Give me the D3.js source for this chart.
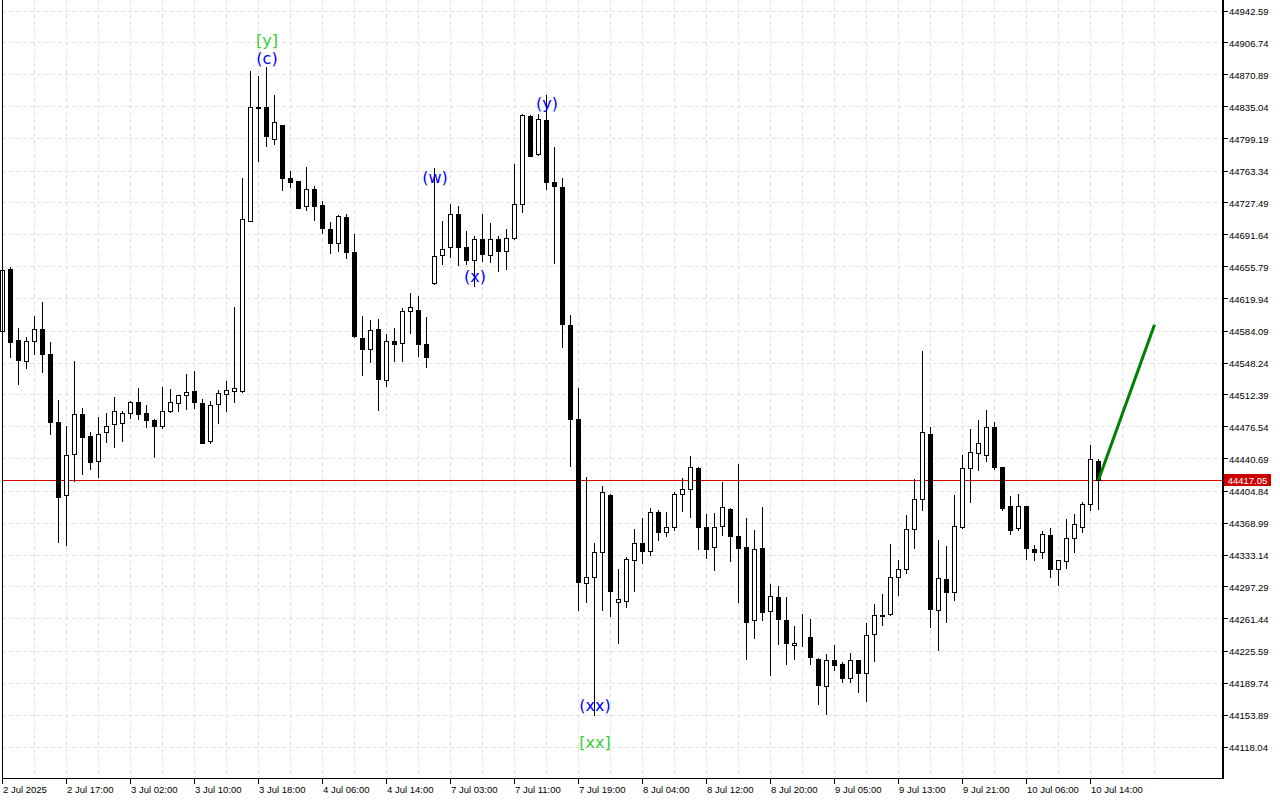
<!DOCTYPE html>
<html><head><meta charset="utf-8">
<script src="https://cdn.jsdelivr.net/npm/d3@7"></script>
<style>body{margin:0;background:#fff}svg{display:block}</style>
</head><body><svg id="c" width="1280" height="800"></svg>
<script>
const open=[44584,44654,44574,44551,44573,44586,44558,44482,44400,44446,44491,44466,44438,44471,44480,44481,44492,44504,44492,44484,44478,44494,44503,44512,44517,44503,44461,44502,44514,44517,44517,44707,44835,44835,44799,44815,44756,44752,44724,44743,44725,44698,44683,44712,44673,44576,44564,44586,44529,44573,44571,44606,44608,44570,44638,44669,44678,44715,44678,44664,44687,44669,44687,44674,44688,44726,44825,44782,44821,44751,44745,44591,44486,44302,44309,44337,44400,44281,44282,44327,44347,44338,44381,44359,44365,44402,44407,44431,44365,44342,44366,44385,44354,44342,44260,44341,44270,44286,44260,44232,44241,44241,44217,44186,44216,44211,44195,44215,44201,44245,44266,44267,44309,44318,44362,44396,44469,44271,44306,44292,44364,44431,44447,44445,44477,44432,44388,44363,44388,44340,44337,44356,44317,44326,44352,44365,44390,44439];
const high=[44655,44656,44587,44577,44601,44617,44572,44507,44478,44550,44498,44471,44488,44492,44510,44495,44506,44520,44501,44485,44521,44519,44512,44536,44539,44508,44506,44518,44528,44611,44755,44875,44870,44880,44848,44815,44763,44752,44768,44747,44730,44706,44714,44715,44693,44601,44596,44598,44581,44587,44610,44627,44623,44600,44767,44707,44726,44724,44696,44691,44715,44705,44690,44698,44771,44827,44826,44827,44849,44790,44755,44602,44520,44420,44347,44411,44401,44317,44331,44362,44375,44386,44384,44381,44404,44419,44444,44432,44379,44380,44415,44386,44435,44375,44361,44387,44301,44298,44286,44254,44267,44262,44218,44222,44232,44213,44223,44216,44257,44278,44289,44345,44327,44378,44418,44562,44477,44350,44343,44400,44445,44474,44484,44496,44482,44432,44399,44402,44388,44344,44360,44363,44327,44374,44379,44393,44456,44441];
const low=[44574,44555,44525,44543,44558,44538,44469,44348,44344,44416,44424,44430,44421,44460,44454,44461,44487,44486,44476,44443,44475,44493,44494,44497,44498,44459,44459,44481,44495,44504,44516,44707,44775,44791,44794,44742,44745,44722,44720,44708,44694,44672,44674,44666,44577,44535,44549,44496,44522,44550,44550,44582,44556,44544,44637,44659,44667,44658,44659,44635,44663,44661,44651,44654,44687,44717,44780,44781,44743,44660,44566,44433,44272,44280,44154,44272,44265,44235,44275,44293,44324,44333,44350,44354,44361,44382,44376,44340,44330,44316,44355,44326,44280,44217,44240,44260,44199,44233,44211,44217,44231,44211,44166,44155,44204,44191,44191,44180,44170,44214,44255,44266,44288,44313,44341,44384,44252,44227,44258,44283,44363,44392,44428,44439,44430,44383,44357,44361,44329,44328,44330,44309,44299,44319,44336,44359,44384,44385];
const close=[44652,44572,44552,44573,44586,44558,44482,44398,44445,44491,44465,44437,44469,44478,44495,44492,44505,44491,44484,44478,44494,44504,44512,44516,44504,44459,44501,44515,44518,44520,44710,44835,44834,44802,44818,44756,44751,44722,44743,44724,44699,44683,44713,44673,44578,44564,44585,44530,44573,44570,44607,44611,44570,44555,44668,44676,44715,44678,44664,44687,44670,44687,44674,44688,44726,44826,44780,44822,44751,44747,44592,44485,44303,44309,44337,44404,44293,44284,44329,44347,44338,44381,44359,44365,44401,44407,44432,44365,44340,44365,44387,44354,44341,44258,44340,44269,44287,44261,44234,44234,44241,44219,44187,44215,44210,44195,44215,44201,44244,44266,44265,44309,44318,44362,44396,44471,44273,44307,44292,44366,44431,44448,44459,44477,44432,44386,44361,44388,44341,44337,44357,44317,44327,44352,44368,44390,44441,44417.05];

const yTicks=[44942.59,44906.74,44870.89,44835.04,44799.19,44763.34,44727.49,44691.64,44655.79,44619.94,44584.09,44548.24,44512.39,44476.54,44440.69,44404.84,44368.99,44333.14,44297.29,44261.44,44225.59,44189.74,44153.89,44118.04];
const xLabels=["2 Jul 2025","2 Jul 17:00","3 Jul 02:00","3 Jul 10:00","3 Jul 18:00","4 Jul 06:00","4 Jul 14:00","7 Jul 03:00","7 Jul 11:00","7 Jul 19:00","8 Jul 04:00","8 Jul 12:00","8 Jul 20:00","9 Jul 05:00","9 Jul 13:00","9 Jul 21:00","10 Jul 06:00","10 Jul 14:00"];
const xLabelIdx=[0,8,16,24,32,40,48,56,64,72,80,88,96,104,112,120,128,136];

const waveText=["[y]","(c)","(w)","(x)","(y)","(xx)","[xx]"];
const waveIdx=[33,33,54,59,68,74,74];
const wavePrice=[44910,44889,44755.5,44644.6,44839.5,44165,44123.6];
const waveDegree=["major","minor","minor","minor","minor","minor","major"];

const lastPrice=44417.05;
const projIdx=[137,144];
const projPrice=[44417.05,44591];

const svg=d3.select("#c");
const L=2, R=1222, T=0, B=778;
const x=d3.scaleLinear().domain([0,145]).range([2.5,2.5+8*145]);
const y=d3.scaleLinear().domain([44118.04,44942.59]).range([747,11]);
const px=v=>Math.floor(v)+0.5;

svg.append("rect").attr("width",1280).attr("height",800).attr("fill","#fff");

// grid
const g=svg.append("g");
g.selectAll(".hg").data(yTicks).join("line")
 .attr("x1",L).attr("x2",R).attr("y1",d=>px(y(d))).attr("y2",d=>px(y(d)))
 .attr("stroke","#e2e2e2").attr("stroke-dasharray","4,3");
const vIdx=d3.range(4,146,4);
g.selectAll(".vg").data(vIdx.filter(i=>x(i)<R)).join("line")
 .attr("x1",d=>x(d)).attr("x2",d=>x(d)).attr("y1",T).attr("y2",B)
 .attr("stroke","#e2e2e2").attr("stroke-dasharray","4,3");

// current price line
svg.append("line").attr("x1",L).attr("x2",R)
 .attr("y1",px(y(lastPrice))).attr("y2",px(y(lastPrice)))
 .attr("stroke","#e00000").attr("stroke-width",1);

// candles
const idx=d3.range(open.length);
const cg=svg.append("g");
cg.selectAll(".w").data(idx).join("line")
 .attr("x1",i=>x(i)).attr("x2",i=>x(i))
 .attr("y1",i=>Math.round(y(high[i]))).attr("y2",i=>Math.round(y(low[i]))+1)
 .attr("stroke","#000").attr("stroke-width",1);
cg.selectAll(".b").data(idx).join("rect")
 .attr("x",i=>x(i)-2)
 .attr("y",i=>Math.round(y(Math.max(open[i],close[i])))+0.5)
 .attr("width",4)
 .attr("height",i=>Math.max(0,Math.round(y(Math.min(open[i],close[i])))-Math.round(y(Math.max(open[i],close[i])))))
 .attr("fill",i=>close[i]>=open[i]?"#fff":"#000")
 .attr("stroke","#000").attr("stroke-width",1);

// projection line
svg.append("line")
 .attr("x1",x(projIdx[0])).attr("y1",y(projPrice[0]))
 .attr("x2",x(projIdx[1])).attr("y2",y(projPrice[1]))
 .attr("stroke","#008000").attr("stroke-width",3);

// wave labels
svg.selectAll(".wl").data(waveText).join("text")
 .attr("x",(d,i)=>x(waveIdx[i])+0.5).attr("y",(d,i)=>y(wavePrice[i]))
 .attr("text-anchor","middle").attr("dominant-baseline","central")
 .attr("font-family","DejaVu Sans").attr("font-size",16)
 .attr("fill",(d,i)=>waveDegree[i]==="major"?"#3ccc3c":"#0000ff")
 .text(d=>d);

// frame
svg.append("line").attr("x1",L+0.5).attr("x2",L+0.5).attr("y1",T).attr("y2",B+1).attr("stroke","#000");
svg.append("line").attr("x1",L).attr("x2",R+2).attr("y1",B+0.5).attr("y2",B+0.5).attr("stroke","#000");
svg.append("line").attr("x1",R+1).attr("x2",R+1).attr("y1",T).attr("y2",B+1).attr("stroke","#000").attr("stroke-width",2);

// y axis
const ya=svg.append("g");
ya.selectAll("line").data(yTicks).join("line")
 .attr("x1",R+2).attr("x2",R+6).attr("y1",d=>px(y(d))).attr("y2",d=>px(y(d))).attr("stroke","#000");
ya.selectAll("text").data(yTicks).join("text")
 .attr("x",R+7).attr("y",d=>y(d)+0.5).attr("dominant-baseline","central")
 .attr("font-family","Liberation Sans").attr("font-size",9.5).attr("fill","#000")
 .text(d=>d.toFixed(2));

// current price tag
const ly=y(lastPrice);
svg.append("rect").attr("x",R+2).attr("y",Math.round(ly)-6).attr("width",47).attr("height",12).attr("fill","#cc0000");
svg.append("text").attr("x",R+25.5).attr("y",ly+0.5).attr("text-anchor","middle").attr("dominant-baseline","central")
 .attr("font-family","Liberation Sans").attr("font-size",9.5).attr("fill","#fff").text(lastPrice.toFixed(2));

// x axis
const xa=svg.append("g");
xa.selectAll("line").data(xLabelIdx).join("line")
 .attr("x1",i=>x(i)).attr("x2",i=>x(i)).attr("y1",B).attr("y2",B+6).attr("stroke","#000");
xa.selectAll("text").data(xLabelIdx).join("text")
 .attr("x",i=>x(i)+0.5).attr("y",789).attr("dominant-baseline","central")
 .attr("font-family","Liberation Sans").attr("font-size",9.5).attr("fill","#000")
 .text((d,k)=>xLabels[k]);
</script></body></html>
